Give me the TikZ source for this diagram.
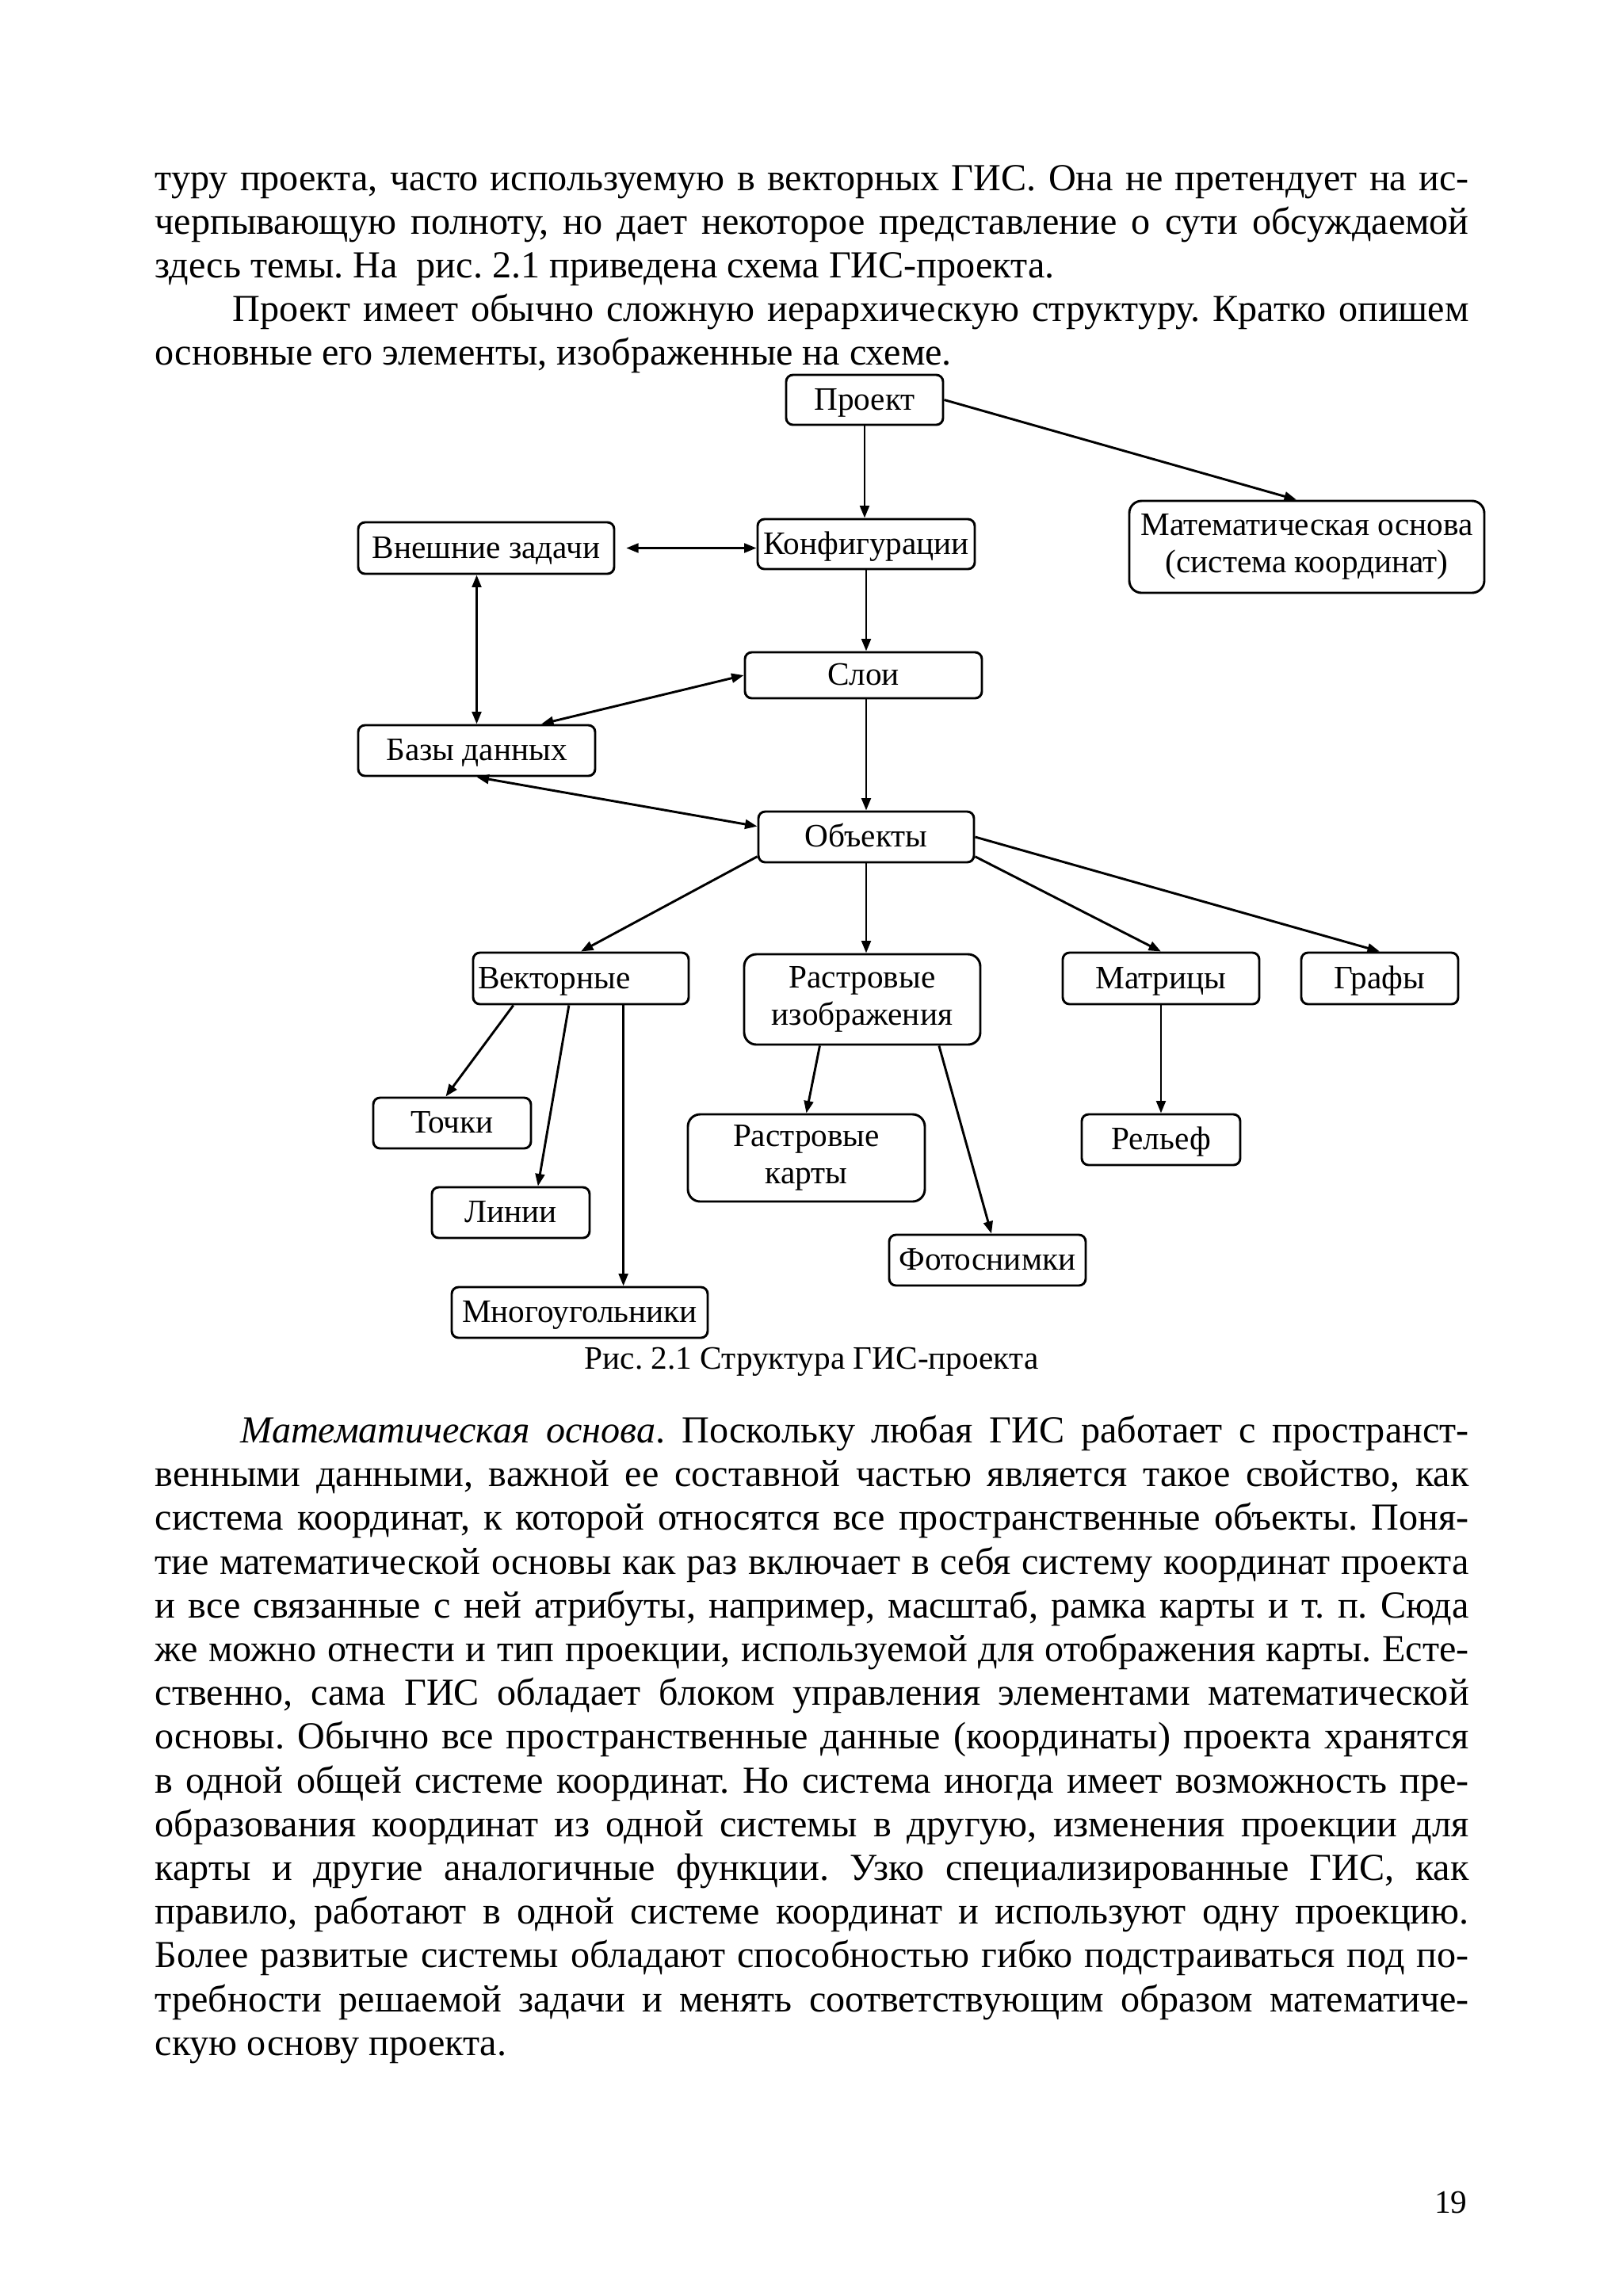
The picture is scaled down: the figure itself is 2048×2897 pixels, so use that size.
\documentclass[tikz,border=0pt]{standalone}
\usepackage{fontspec}
\setmainfont{Liberation Serif}
\usetikzlibrary{arrows.meta,calc}
\newlength\pxl
\setlength\pxl{0.29066bp}
\newcommand\bodyfont{\fontsize{14bp}{16bp}\selectfont}
\newcommand\dfont{\fontsize{12bp}{13.8bp}\selectfont}
\newcommand\jfull[2]{\hbox to #1\pxl{#2}}
\frenchspacing
\begin{document}
\begin{tikzpicture}[x=0.29066bp,y=-0.29066bp,
  tl/.style={anchor=base west,inner sep=0pt,font=\bodyfont},
  box/.style={draw,line width=0.85bp,rounded corners=2.5bp,inner sep=0pt,align=center,font=\dfont},
  onel/.style={box,text height=1.02em,text depth=0.28em},
  bigbox/.style={box,rounded corners=4.5bp},
  arr/.style={line width=0.85bp,-{Triangle[length=4.5bp,width=3.4bp]}},
  barr/.style={line width=0.85bp,{Triangle[length=4.5bp,width=3.4bp]}-{Triangle[length=4.5bp,width=3.4bp]}}]
\useasboundingbox (0,0) rectangle (2048,2897);
\fill[white] (0,0) rectangle (2048,2897);

% ---- top paragraph lines
\node[tl] (t1) at (195,240) {\jfull{1658}{туру проекта, часто используемую в векторных ГИС. Она не претендует на ис-}};
\node[tl] (t2) at (195,295) {\jfull{1658}{черпывающую полноту, но дает некоторое представление о сути обсуждаемой}};
\node[tl] (t3) at (195,350) {здесь темы. На~ рис. 2.1 приведена схема ГИС-проекта.};
\node[tl] (t4) at (293,405) {\jfull{1560}{Проект имеет обычно сложную иерархическую структуру. Кратко опишем}};
\node[tl] (t5) at (195,460) {основные его элементы, изображенные на схеме.};

% ---- diagram boxes
\node[onel,minimum width=198\pxl,minimum height=63\pxl] (proj) at (1091,504.5) {Проект};
\node[bigbox,minimum width=448\pxl,minimum height=116\pxl] (mat) at (1649,690) {Математическая основа\\(система координат)};
\node[onel,minimum width=274\pxl,minimum height=63\pxl] (konf) at (1093,686.5) {Конфигурации};
\node[onel,minimum width=323\pxl,minimum height=65\pxl] (vn) at (613.5,691.5) {Внешние задачи};
\node[onel,minimum width=299\pxl,minimum height=58\pxl] (sloi) at (1089.5,852) {Слои};
\node[onel,minimum width=299\pxl,minimum height=64\pxl] (bd) at (601.5,947) {Базы данных};
\node[onel,minimum width=272\pxl,minimum height=64\pxl] (obj) at (1093,1056) {Объекты};
\node[onel,text width=260\pxl,inner xsep=6\pxl,align=left,minimum height=65\pxl] (vek) at (733,1234.5) {Векторные};
\node[bigbox,minimum width=298\pxl,minimum height=114\pxl] (ri) at (1088,1261) {Растровые\\изображения};
\node[onel,minimum width=248\pxl,minimum height=65\pxl] (mx) at (1465,1234.5) {Матрицы};
\node[onel,minimum width=198\pxl,minimum height=65\pxl] (gr) at (1741,1234.5) {Графы};
\node[onel,minimum width=199\pxl,minimum height=64\pxl] (tk) at (570.5,1417) {Точки};
\node[onel,minimum width=199\pxl,minimum height=64\pxl] (ln) at (644.5,1530) {Линии};
\node[onel,minimum width=323\pxl,minimum height=64\pxl] (mn) at (731.5,1656) {Многоугольники};
\node[bigbox,minimum width=299\pxl,minimum height=110\pxl] (rk) at (1017.5,1461) {Растровые\\карты};
\node[onel,minimum width=248\pxl,minimum height=64\pxl] (ft) at (1246,1590) {Фотоснимки};
\node[onel,minimum width=200\pxl,minimum height=64\pxl] (rl) at (1465,1438) {Рельеф};

% ---- connectors
\draw[arr] (proj.south) -- (proj.south |- konf.north);
\draw[arr] (proj.east) -- ($(mat.north)+(-13,0)$);
\draw[barr,shorten <=4bp] (vn.east) -- (vn.east -| konf.west);
\draw[barr] (bd.north) -- (bd.north |- vn.south);
\draw[barr] (sloi.west) -- ($(bd.north)!0.54!(bd.north east)$);
\draw[barr] (bd.south) -- ($(obj.north west)!0.3!(obj.south west)$);
\draw[arr] (konf.south) -- (konf.south |- sloi.north);
\draw[arr] (sloi.south -| obj.north) -- (obj.north);
\draw[arr] ($(obj.north west)!0.87!(obj.south west)$) -- (vek.north);
\draw[arr] (obj.south) -- (obj.south |- ri.north);
\draw[arr] ($(obj.north east)!0.87!(obj.south east)$) -- (mx.north);
\draw[arr] (obj.east) -- (gr.north);
\draw[arr] ($(vek.south west)!0.19!(vek.south east)$) -- ($(tk.north west)!0.46!(tk.north east)$);
\draw[arr] ($(vek.south west)!0.445!(vek.south east)$) -- ($(ln.north west)!0.67!(ln.north east)$);
\draw[arr] ($(vek.south west)!0.695!(vek.south east)$) coordinate (v3) -- (v3 |- mn.north);
\draw[arr] ($(ri.south west)!0.322!(ri.south east)$) -- (rk.north);
\draw[arr] ($(ri.south west)!0.822!(ri.south east)$) -- ($(ft.north west)!0.52!(ft.north east)$);
\draw[arr] (mx.south) -- (rl.north);

% ---- caption
\node[anchor=base,inner sep=0pt,font=\dfont] (cap) at (1024,1727) {Рис. 2.1 Структура ГИС-проекта};

% ---- lower paragraph
\node[tl] (b1) at (303,1820) {\jfull{1550}{{\itshape Математическая основа}. Поскольку любая ГИС работает с пространст-}};
\node[tl] (b2) at (195,1875) {\jfull{1658}{венными данными, важной ее составной частью является такое свойство, как}};
\node[tl] (b3) at (195,1930) {\jfull{1658}{система координат, к которой относятся все пространственные объекты. Поня-}};
\node[tl] (b4) at (195,1986) {\jfull{1658}{тие математической основы как раз включает в себя систему координат проекта}};
\node[tl] (b5) at (195,2041) {\jfull{1658}{и все связанные с ней атрибуты, например, масштаб, рамка карты и т. п. Сюда}};
\node[tl] (b6) at (195,2096) {\jfull{1658}{же можно отнести и тип проекции, используемой для отображения карты. Есте-}};
\node[tl] (b7) at (195,2151) {\jfull{1658}{ственно, сама ГИС обладает блоком управления элементами математической}};
\node[tl] (b8) at (195,2206) {\jfull{1658}{основы. Обычно все пространственные данные (координаты) проекта хранятся}};
\node[tl] (b9) at (195,2262) {\jfull{1658}{в одной общей системе координат. Но система иногда имеет возможность пре-}};
\node[tl] (b10) at (195,2317) {\jfull{1658}{образования координат из одной системы в другую, изменения проекции для}};
\node[tl] (b11) at (195,2372) {\jfull{1658}{карты и другие аналогичные функции. Узко специализированные ГИС, как}};
\node[tl] (b12) at (195,2427) {\jfull{1658}{правило, работают в одной системе координат и используют одну проекцию.}};
\node[tl] (b13) at (195,2482) {\jfull{1658}{Более развитые системы обладают способностью гибко подстраиваться под по-}};
\node[tl] (b14) at (195,2538) {\jfull{1658}{требности решаемой задачи и менять соответствующим образом математиче-}};
\node[tl] (b15) at (195,2593) {скую основу проекта.};

% ---- page number
\node[anchor=base east,inner sep=0pt,font=\dfont] (pg) at (1852,2792) {19};
\end{tikzpicture}
\end{document}
